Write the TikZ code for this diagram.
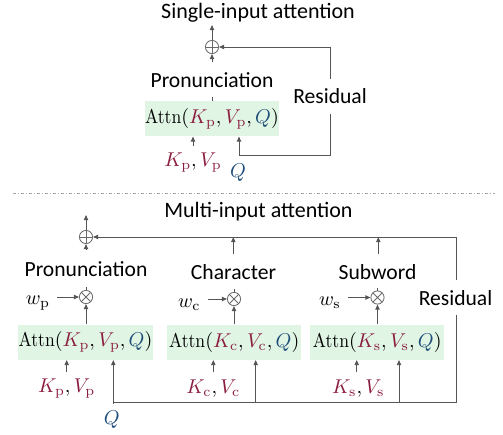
\documentclass[tikz,border=0pt]{standalone}
\usepackage[no-math]{fontspec}
\usepackage{graphicx}
\newfontfamily\labelfont{Carlito}
\usetikzlibrary{arrows.meta,calc}

\definecolor{keyred}{HTML}{8B1E3F}
\definecolor{qblue}{HTML}{1F4E79}
\definecolor{boxgreen}{HTML}{E0F5E4}
\definecolor{linegray}{HTML}{555555}
\definecolor{opgray}{HTML}{6A6A6A}

\newcommand{\Kx}[1]{\textcolor{keyred}{K_{\mathrm{#1}}}}
\newcommand{\Vx}[1]{\textcolor{keyred}{V_{\mathrm{#1}}}}
\newcommand{\Qx}{\textcolor{qblue}{Q}}
% slightly condensed operator name
\newcommand{\attnop}{\mathord{\scalebox{0.88}[1]{$\mathrm{Attn}$}}}

\tikzset{
  line/.style={draw=linegray, line width=0.5pt},
  arr/.style={line, -{Triangle[length=2.6pt,width=2.2pt]}},
  sepline/.style={draw=gray!70, line width=0.5pt,
    dash pattern=on 1.6pt off 1pt on 0.4pt off 1pt},
  titletext/.style={font=\labelfont\fontsize{11}{13}\selectfont},
  labeltext/.style={font=\labelfont\fontsize{10.8}{13}\selectfont},
  restext/.style={labeltext, fill=white, inner xsep=1pt, inner ysep=5pt},
  mathtext/.style={font=\fontsize{10}{12}\selectfont},
  attnbox/.style={font=\fontsize{9.6}{11}\selectfont, fill=boxgreen,
    minimum width=67.2pt, minimum height=17.4pt, inner sep=0pt},
  opnode/.style={circle, draw=opgray, line width=0.4pt,
    minimum size=6.6pt, inner sep=0pt},
  oplus/.style={opnode, path picture={
    \draw[opgray, line width=0.4pt]
      (path picture bounding box.north) -- (path picture bounding box.south)
      (path picture bounding box.west) -- (path picture bounding box.east);}},
  otimes/.style={opnode, path picture={
    \draw[opgray, line width=0.4pt]
      ([shift={(45:3.3pt)}]path picture bounding box.center) --
      ([shift={(225:3.3pt)}]path picture bounding box.center)
      ([shift={(135:3.3pt)}]path picture bounding box.center) --
      ([shift={(315:3.3pt)}]path picture bounding box.center);}},
}

\begin{document}
\begin{tikzpicture}[x=0.5pt, y=-0.5pt]
\useasboundingbox (0,0) rectangle (503,434);

% ---------------- single-input attention ----------------
\node[titletext] (title1) at (258,13) {Single-input attention};
\node[oplus] (plus1) at (212,47) {};
\coordinate (out1) at (212,25);
\coordinate (in1) at (212,62);
\node[labeltext] (pron1) at (212,80) {Pronunciation};
\coordinate (tk1) at (212,96.5);
\node[attnbox] (box1) at (212,118.7) {$\attnop(\Kx{p},\Vx{p},\Qx)$};
\node[mathtext] (kv1) at (193,163) {$\Kx{p},\Vx{p}$};
\node[mathtext] (q1) at (238,173) {$\Qx$};
\coordinate (qj1) at (239,155);
\coordinate (rc1) at (330,155);

\draw[arr] (plus1.north) -- (out1);
\draw[arr] (in1) -- (plus1.south);
\draw[line] (box1.north -| tk1) -- (tk1);
\draw[arr] (kv1.north) -- (kv1.north |- box1.south);
\draw[arr] (qj1) -- (qj1 |- box1.south);
\draw[arr] (qj1) -- (rc1) -- (rc1 |- plus1) -- (plus1.east);
\node[restext] (res1) at (330,96.5) {Residual};

% ---------------- separator ----------------
\coordinate (sepl) at (13,193.5);
\coordinate (sepr) at (495,193.5);
\draw[sepline] (sepl) -- (sepr);

% ---------------- multi-input attention ----------------
\node[titletext] (title2) at (258.5,212) {Multi-input attention};
\node[oplus] (plus2) at (86,237) {};
\coordinate (out2) at (86,215);
\coordinate (in2) at (86,250);

\node[labeltext] (pron2) at (86,269) {Pronunciation};
\node[labeltext] (char2) at (233.5,272) {Character};
\node[labeltext] (sub2) at (377.5,272) {Subword};

\node[otimes] (otp) at (86,297) {};
\node[otimes] (otc) at (234,299) {};
\node[otimes] (ots) at (377.5,297.5) {};

\node[mathtext] (wp) at (38,303) {$w_{\mathrm{p}}$};
\node[mathtext] (wc) at (189.3,304.3) {$w_{\mathrm{c}}$};
\node[mathtext] (ws) at (330,302.7) {$w_{\mathrm{s}}$};

\node[attnbox] (boxp) at (85.5,342.2) {$\attnop(\Kx{p},\Vx{p},\Qx)$};
\node[attnbox] (boxc) at (234.2,342.2) {$\attnop(\Kx{c},\Vx{c},\Qx)$};
\node[attnbox] (boxs) at (377.2,342.2) {$\attnop(\Kx{s},\Vx{s},\Qx)$};

\node[mathtext] (kvp) at (66.7,388.3) {$\Kx{p},\Vx{p}$};
\node[mathtext] (kvc) at (213.3,388.3) {$\Kx{c},\Vx{c}$};
\node[mathtext] (kvs) at (358.3,388.3) {$\Kx{s},\Vx{s}$};
\node[mathtext] (q2) at (111.7,420) {$\Qx$};

\coordinate (qj2) at (113.3,402.7);
\coordinate (qc2) at (255.7,402.7);
\coordinate (qs2) at (399,402.7);
\coordinate (rc2) at (456.7,402.7);
\coordinate (cu2) at (233.3,253.5);
\coordinate (su2) at (378.3,254);
\coordinate (tkp) at (86,287);
\coordinate (tkc) at (234,289);
\coordinate (tks) at (377.5,287.5);

\draw[arr] (plus2.north) -- (out2);
\draw[arr] (in2) -- (plus2.south);
\draw[arr] (cu2) -- (cu2 |- plus2);
\draw[arr] (su2) -- (su2 |- plus2);

\draw[line] (otp.north) -- (tkp);
\draw[line] (otc.north) -- (tkc);
\draw[line] (ots.north) -- (tks);

\draw[arr] (wp.east |- otp) -- (otp.west);
\draw[arr] (wc.east |- otc) -- (otc.west);
\draw[arr] (ws.east |- ots) -- (ots.west);

\draw[arr] (boxp.north -| otp) -- (otp.south);
\draw[arr] (boxc.north -| otc) -- (otc.south);
\draw[arr] (boxs.north -| ots) -- (ots.south);

\draw[arr] (kvp.north) -- (kvp.north |- boxp.south);
\draw[arr] (kvc.north) -- (kvc.north |- boxc.south);
\draw[arr] ([xshift=-0.8pt]kvs.north) -- ([xshift=-0.8pt]kvs.north |- boxs.south);

\draw[arr] (qj2 |- q2.north) -- (qj2 |- boxp.south);
\draw[arr] (qc2) -- (qc2 |- boxc.south);
\draw[arr] (qs2) -- (qs2 |- boxs.south);
\draw[line] (qj2) -- (rc2);
\draw[arr] (rc2) -- (rc2 |- plus2) -- (plus2.east);
\node[restext] (res2) at (455.5,297.7) {Residual};

\end{tikzpicture}
\end{document}
